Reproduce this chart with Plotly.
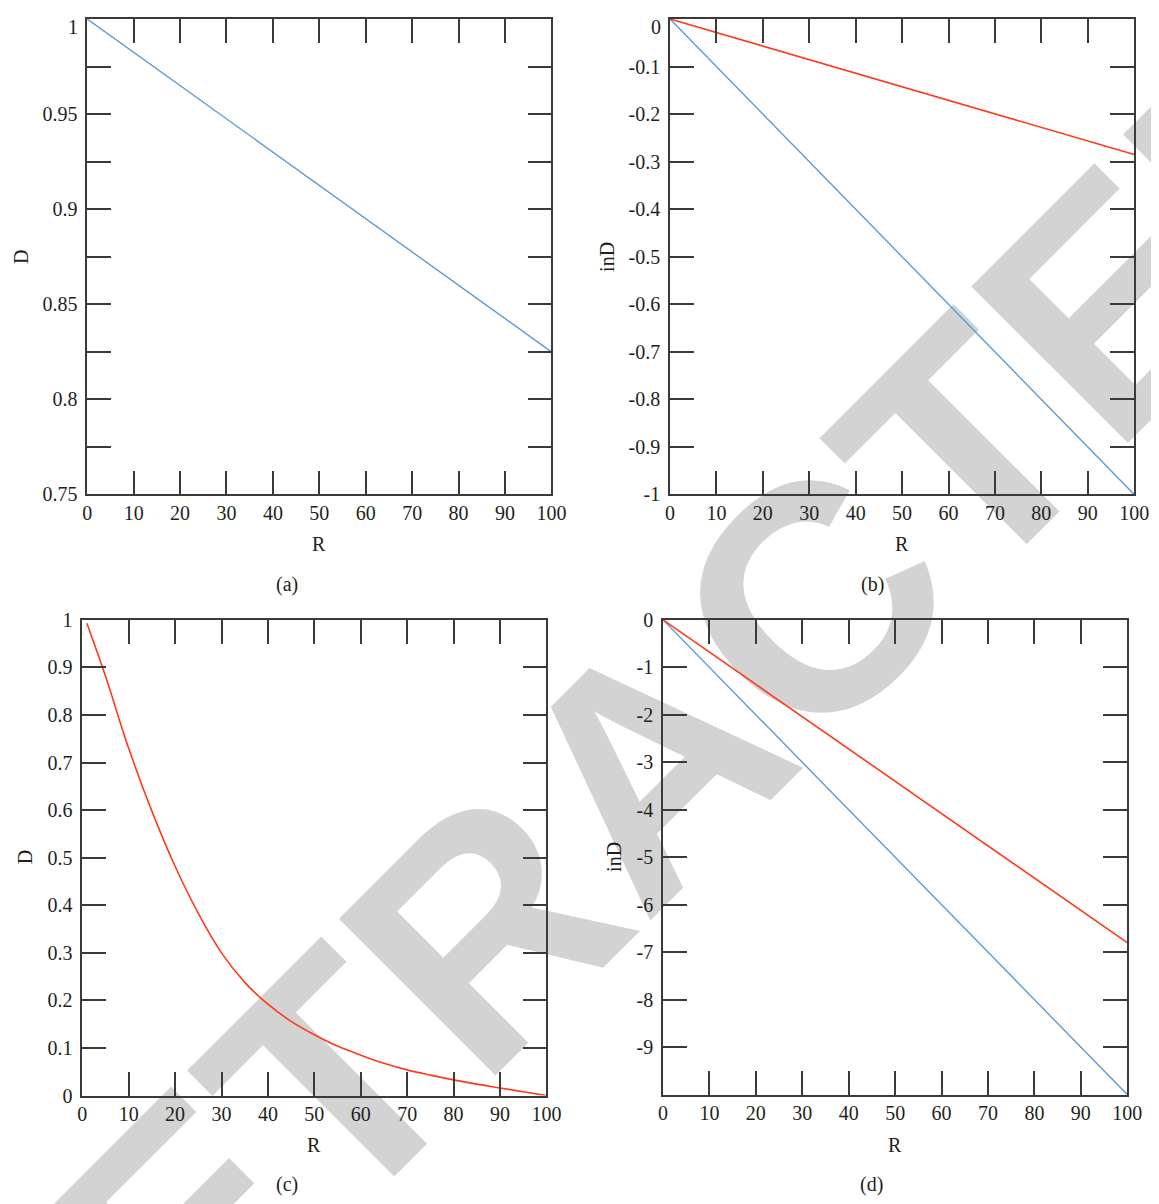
import plotly.graph_objects as go

W, H = 1159, 1204

# ---------------- data ----------------
R_lin = [0, 100]
D_a = [1.0, 0.825]                 # (a) D, blue
lnD_b_blue = [0.0, -1.0]           # (b) inD, blue
lnD_b_red = [0.0, -0.285]          # (b) inD, red

R_c = [1, 5, 10, 15, 20, 25, 30, 35, 40, 45, 50, 55, 60, 65, 70, 75, 80, 85, 90, 95, 100]
D_c = [0.993, 0.882, 0.73, 0.598, 0.482, 0.383, 0.30, 0.238, 0.192, 0.156,
       0.128, 0.104, 0.085, 0.068, 0.054, 0.043, 0.033, 0.024, 0.016, 0.008, 0.0]  # (c) D, red

lnD_d_blue = [0.0, -10.0]          # (d) inD, blue
lnD_d_red = [0.0, -6.8]            # (d) inD, red

x_ticks = [0, 10, 20, 30, 40, 50, 60, 70, 80, 90, 100]
x_ticktext = ["0", "10", "20", "30", "40", "50", "60", "70", "80", "90", "100"]

ya_ticks = [0.75, 0.775, 0.8, 0.825, 0.85, 0.875, 0.9, 0.925, 0.95, 0.975, 1.0]
ya_text = ["0.75", "", "0.8", "", "0.85", "", "0.9", "", "0.95", "", ""]
ya_top = "1"

yb_ticks = [-1.0, -0.9, -0.8, -0.7, -0.6, -0.5, -0.4, -0.3, -0.2, -0.1, 0.0]
yb_text = ["-1", "-0.9", "-0.8", "-0.7", "-0.6", "-0.5", "-0.4", "-0.3", "-0.2", "-0.1", ""]
yb_top = "0"

yc_ticks = [0.0, 0.1, 0.2, 0.3, 0.4, 0.5, 0.6, 0.7, 0.8, 0.9, 1.0]
yc_text = ["0", "0.1", "0.2", "0.3", "0.4", "0.5", "0.6", "0.7", "0.8", "0.9", "1"]

yd_ticks = [-10, -9, -8, -7, -6, -5, -4, -3, -2, -1, 0]
yd_text = ["", "-9", "-8", "-7", "-6", "-5", "-4", "-3", "-2", "-1", "0"]

BLUE = "#5B9BD5"
RED = "#FF3A1A"
AX = "#3a3a3a"
TXT = "#231F20"
SERIF = "Liberation Serif"
FS = 20

# page-to-screen mapping observed in the viewer
S, OX, OY = 0.9865, 10.5, 16.2


def fx(sx):
    return min(max((sx - OX) / S / W, 0.0), 1.0)


def fy(sy):
    return min(max(1 - (sy - OY) / S / H, 0.0), 1.0)


fig = go.Figure()
fig.add_trace(go.Scatter(x=R_lin, y=D_a, mode="lines", line=dict(color=BLUE, width=1.4),
                         xaxis="x", yaxis="y", showlegend=False))
fig.add_trace(go.Scatter(x=R_lin, y=lnD_b_blue, mode="lines", line=dict(color=BLUE, width=1.4),
                         xaxis="x2", yaxis="y2", showlegend=False))
fig.add_trace(go.Scatter(x=R_lin, y=lnD_b_red, mode="lines", line=dict(color=RED, width=1.6),
                         xaxis="x2", yaxis="y2", showlegend=False))
fig.add_trace(go.Scatter(x=R_c, y=D_c, mode="lines",
                         line=dict(color=RED, width=1.6, shape="spline", smoothing=1.0),
                         xaxis="x3", yaxis="y3", showlegend=False))
fig.add_trace(go.Scatter(x=R_lin, y=lnD_d_blue, mode="lines", line=dict(color=BLUE, width=1.4),
                         xaxis="x4", yaxis="y4", showlegend=False))
fig.add_trace(go.Scatter(x=R_lin, y=lnD_d_red, mode="lines", line=dict(color=RED, width=1.6),
                         xaxis="x4", yaxis="y4", showlegend=False))


def xax(x0, x1, anchor):
    return dict(domain=[fx(x0), fx(x1)], anchor=anchor, range=[0, 100],
                tickmode="array", tickvals=x_ticks, ticktext=x_ticktext,
                showline=True, linecolor=AX, linewidth=1.5, mirror="allticks",
                ticks="inside", ticklen=24, tickwidth=1.5, tickcolor=AX,
                showgrid=False, zeroline=False, ticklabelstandoff=0,
                tickfont=dict(family=SERIF, size=FS, color=TXT), fixedrange=True)


def yax(y0, y1, anchor, rng, vals, text):
    return dict(domain=[fy(y1), fy(y0)], anchor=anchor, range=rng,
                tickmode="array", tickvals=vals, ticktext=text,
                showline=True, linecolor=AX, linewidth=1.5, mirror="allticks",
                ticks="inside", ticklen=24, tickwidth=1.5, tickcolor=AX,
                showgrid=False, zeroline=False, ticklabelstandoff=4,
                tickfont=dict(family=SERIF, size=FS, color=TXT), fixedrange=True)


ann = []


def atext(x, y, text, angle=0, xanchor="center"):
    ann.append(dict(x=fx(x), y=fy(y), xref="paper", yref="paper", text=text,
                    showarrow=False, textangle=angle, xanchor=xanchor, yanchor="middle",
                    font=dict(family=SERIF, size=FS, color=TXT)))


atext(318, 544, "R")
atext(903, 544, "R")
atext(313, 1148, "R")
atext(896, 1148, "R")
atext(18, 255, "D", -90)
atext(606, 255, "inD", -90)
atext(22, 858, "D", -90)
atext(614, 858, "inD", -90)
atext(286, 584, "(a)")
atext(873, 584, "(b)")
atext(286, 1187, "(c)")
atext(872, 1187, "(d)")
# top tick labels of the upper panels, kept inside the visible page
atext(78, 24, ya_top, xanchor="right")
atext(663, 24, yb_top, xanchor="right")

cx, cy = 626, 744
shapes = [dict(type="rect", xref="paper", yref="paper",
               x0=fx(cx - 5), x1=fx(cx + 5), y0=fy(cy + 5), y1=fy(cy - 5),
               line=dict(width=0), fillcolor="rgba(0,0,0,0)", layer="below",
               label=dict(text="RETRACTED", textangle=-45, textposition="middle center",
                          font=dict(family="Liberation Sans", size=322, color="#D3D3D3",
                                    weight="bold")))]

fig.update_layout(
    width=W, height=H, margin=dict(l=0, r=0, t=0, b=0),
    paper_bgcolor="white", plot_bgcolor="rgba(0,0,0,0)",
    xaxis=xax(85, 551, "y"), yaxis=yax(16, 494, "x", [0.75, 1.0], ya_ticks, ya_text),
    xaxis2=xax(670, 1136, "y2"), yaxis2=yax(16, 494, "x2", [-1.0, 0.0], yb_ticks, yb_text),
    xaxis3=xax(80, 546, "y3"), yaxis3=yax(620, 1098, "x3", [0.0, 1.0], yc_ticks, yc_text),
    xaxis4=xax(663, 1129, "y4"), yaxis4=yax(620, 1097, "x4", [-10, 0], yd_ticks, yd_text),
    annotations=ann, shapes=shapes, showlegend=False,
)

fig.write_html("out.html")
